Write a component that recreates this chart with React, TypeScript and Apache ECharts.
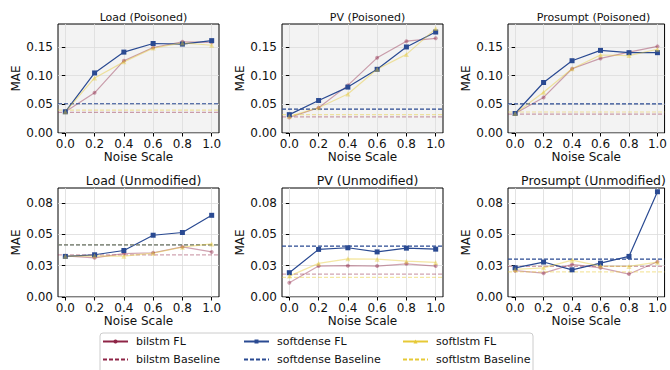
import React, { useEffect, useRef } from "react";
import * as echarts from "echarts";

const noiseScales = [0, 0.2, 0.4, 0.6, 0.8, 1.0];
const xTickLabels = ["0.0", "0.2", "0.4", "0.6", "0.8", "1.0"];
const panelTitles = [
  "Load (Poisoned)",
  "PV (Poisoned)",
  "Prosumpt (Poisoned)",
  "Load (Unmodified)",
  "PV (Unmodified)",
  "Prosumpt (Unmodified)",
];
const topYTicks = [0, 0.05, 0.1, 0.15];
const topYTickLabels = ["0.00", "0.05", "0.10", "0.15"];
const bottomYTicks = [0, 0.025, 0.05, 0.075];
const bottomYTickLabels = ["0.00", "0.03", "0.05", "0.08"];

const bilstmFL = [
  [0.037, 0.07, 0.126, 0.149, 0.159, 0.158],
  [0.027, 0.044, 0.083, 0.131, 0.16, 0.165],
  [0.034, 0.062, 0.112, 0.13, 0.141, 0.151],
  [0.0329, 0.0313, 0.0347, 0.0353, 0.04, 0.036],
  [0.0114, 0.0247, 0.025, 0.0247, 0.0265, 0.0247],
  [0.021, 0.019, 0.026, 0.0233, 0.0183, 0.0281],
];
const softdenseFL = [
  [0.037, 0.1047, 0.141, 0.156, 0.155, 0.161],
  [0.032, 0.0566, 0.08, 0.111, 0.15, 0.176],
  [0.034, 0.088, 0.126, 0.144, 0.14, 0.14],
  [0.0324, 0.0337, 0.0371, 0.0493, 0.0515, 0.0652],
  [0.0194, 0.038, 0.0393, 0.036, 0.039, 0.0382],
  [0.0233, 0.0279, 0.0217, 0.027, 0.0324, 0.084],
];
const softlstmFL = [
  [0.037, 0.096, 0.124, 0.148, 0.157, 0.153],
  [0.029, 0.044, 0.068, 0.111, 0.137, 0.182],
  [0.034, 0.071, 0.112, 0.136, 0.135, 0.146],
  [0.0326, 0.0329, 0.0326, 0.035, 0.0398, 0.0424],
  [0.0167, 0.0268, 0.0305, 0.0302, 0.0286, 0.0276],
  [0.022, 0.0233, 0.0294, 0.0247, 0.0244, 0.0278],
];
const bilstmBaseline = [0.036, 0.028, 0.033, 0.0337, 0.0183, 0.0244];
const softdenseBaseline = [0.051, 0.0415, 0.0506, 0.0416, 0.0406, 0.0302];
const softlstmBaseline = [0.04, 0.032, 0.0366, 0.0416, 0.0157, 0.02];

const X_MIN = -0.05;
const X_MAX = 1.05;
const TOP_Y_MAX = 0.19;
const BOTTOM_Y_MAX = 0.087;

const FONT = "DejaVu Sans";
const C_BILSTM = "#8e2446";
const C_SOFTDENSE = "#2a4a92";
const C_SOFTLSTM = "#e6c936";

const models = [
  { key: "bilstm", fl: bilstmFL, base: bilstmBaseline, color: C_BILSTM, symbol: "circle", size: 4, opacity: 0.42 },
  { key: "softdense", fl: softdenseFL, base: softdenseBaseline, color: C_SOFTDENSE, symbol: "rect", size: 5, opacity: 1 },
  { key: "softlstm", fl: softlstmFL, base: softlstmBaseline, color: C_SOFTLSTM, symbol: "triangle", size: 5, opacity: 0.45 },
];

const colLefts = [58, 282, 508];
const rowTops = [24, 188];
const GRID_W = 161;
const GRID_H = 109;

export default function App() {
  const ref = useRef<HTMLDivElement>(null);

  useEffect(() => {
    if (!ref.current) return;
    const chart = echarts.init(ref.current, undefined, { renderer: "svg" });

    const grids: any[] = [];
    const xAxes: any[] = [];
    const yAxes: any[] = [];
    const titles: any[] = [];
    const series: any[] = [];

    for (let i = 0; i < 6; i++) {
      const row = Math.floor(i / 3);
      const col = i % 3;
      const isTop = row === 0;
      grids.push({
        left: colLefts[col],
        top: rowTops[row],
        width: GRID_W,
        height: GRID_H,
        show: true,
        backgroundColor: isTop ? "#f3f3f3" : "#ffffff",
        borderColor: "#000",
        borderWidth: 1,
      });
      titles.push({
        text: panelTitles[i],
        left: colLefts[col] + GRID_W / 2,
        textAlign: "center",
        top: isTop ? 7 : 169,
        textStyle: { fontFamily: FONT, fontSize: isTop ? 11 : 12.5, fontWeight: "normal", color: "#111" },
      });
      xAxes.push({
        type: "value",
        gridIndex: i,
        min: X_MIN,
        max: X_MAX,
        name: "Noise Scale",
        nameLocation: "middle",
        nameGap: 17,
        nameTextStyle: { fontFamily: FONT, fontSize: 12, color: "#111" },
        axisLine: { show: false },
        axisTick: { show: true, length: 3.5, lineStyle: { color: "#000" }, customValues: noiseScales },
        axisLabel: {
          fontFamily: FONT,
          fontSize: 12,
          color: "#111",
          margin: 5,
          customValues: noiseScales,
          formatter: (v: number) => {
            const idx = noiseScales.findIndex((n) => Math.abs(n - v) < 1e-6);
            return idx >= 0 ? xTickLabels[idx] : "";
          },
        },
        splitLine: { show: true, lineStyle: { color: "#dcdcdc", width: 0.8 } },
      });
      const ticks = isTop ? topYTicks : bottomYTicks;
      const tickLabels = isTop ? topYTickLabels : bottomYTickLabels;
      yAxes.push({
        type: "value",
        gridIndex: i,
        min: 0,
        max: isTop ? TOP_Y_MAX : BOTTOM_Y_MAX,
        name: "MAE",
        nameLocation: "middle",
        nameGap: 33,
        nameTextStyle: { fontFamily: FONT, fontSize: 12, color: "#111" },
        axisLine: { show: false },
        axisTick: { show: true, length: 3.5, lineStyle: { color: "#000" }, customValues: ticks },
        axisLabel: {
          fontFamily: FONT,
          fontSize: 12,
          color: "#111",
          margin: 5,
          customValues: ticks,
          formatter: (v: number) => {
            const idx = ticks.findIndex((n) => Math.abs(n - v) < 1e-9);
            return idx >= 0 ? tickLabels[idx] : "";
          },
        },
        splitLine: { show: true, lineStyle: { color: "#dcdcdc", width: 0.8 } },
      });

      models.forEach((m) => {
        series.push({
          type: "line",
          name: `${m.key} FL`,
          xAxisIndex: i,
          yAxisIndex: i,
          data: noiseScales.map((x, j) => [x, m.fl[i][j]]),
          symbol: m.symbol,
          symbolSize: m.size,
          lineStyle: { color: m.color, width: 1.2, opacity: m.opacity },
          itemStyle: { color: m.color, opacity: m.opacity },
          emphasis: { disabled: true },
        });
        series.push({
          type: "line",
          name: `${m.key} Baseline`,
          xAxisIndex: i,
          yAxisIndex: i,
          data: [
            [X_MIN, m.base[i]],
            [X_MAX, m.base[i]],
          ],
          symbol: "none",
          lineStyle: { color: m.color, width: 1.2, type: [4, 2], opacity: m.opacity },
          itemStyle: { color: m.color, opacity: m.opacity },
          emphasis: { disabled: true },
        });
      });
    }

    const legendCols = [
      { left: 102, key: "bilstm" },
      { left: 243, key: "softdense" },
      { left: 402, key: "softlstm" },
    ];
    const legends = legendCols.map((c) => ({
      data: [
        { name: `${c.key} FL` },
        { name: `${c.key} Baseline`, itemStyle: { opacity: 0 } },
      ],
      left: c.left,
      top: 336,
      height: 34,
      padding: 0,
      orient: "vertical",
      itemWidth: 25,
      itemHeight: 5,
      itemGap: 7,
      selectedMode: false,
      textStyle: { fontFamily: FONT, fontSize: 11, color: "#111", padding: [0, 0, 0, 3] },
      lineStyle: { opacity: 1 },
      itemStyle: { opacity: 1 },
    }));

    chart.setOption({
      animation: false,
      textStyle: { fontFamily: FONT },
      title: titles,
      grid: grids,
      xAxis: xAxes,
      yAxis: yAxes,
      legend: legends,
      series,
      graphic: [
        {
          type: "rect",
          shape: { x: 100, y: 333, width: 433, height: 45, r: 3 },
          style: { fill: "#fff", stroke: "#cccccc", lineWidth: 1 },
          z: -1,
        },
      ],
    });

    return () => chart.dispose();
  }, []);

  return (
    <div
      ref={ref}
      style={{ position: "fixed", left: 0, top: 0, width: 670, height: 370, background: "#fff" }}
    />
  );
}
